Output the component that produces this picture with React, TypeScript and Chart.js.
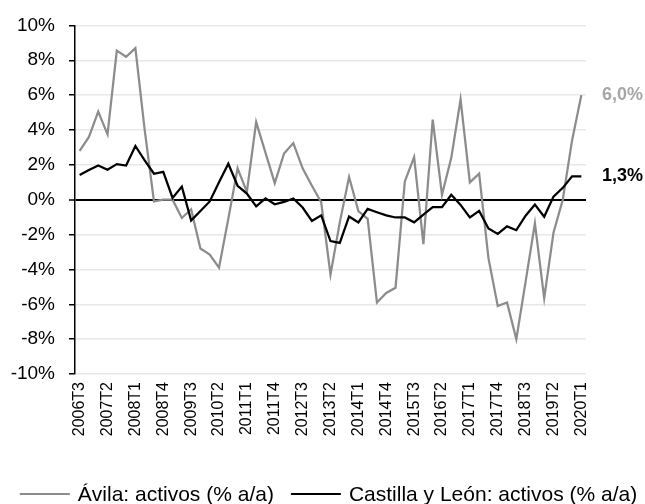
import React, { useEffect, useRef } from "react";
import { Chart, registerables } from "chart.js";

Chart.register(...registerables);

const categories = [
  "2006T3", "2006T4",
  "2007T1", "2007T2", "2007T3", "2007T4",
  "2008T1", "2008T2", "2008T3", "2008T4",
  "2009T1", "2009T2", "2009T3", "2009T4",
  "2010T1", "2010T2", "2010T3", "2010T4",
  "2011T1", "2011T2", "2011T3", "2011T4",
  "2012T1", "2012T2", "2012T3", "2012T4",
  "2013T1", "2013T2", "2013T3", "2013T4",
  "2014T1", "2014T2", "2014T3", "2014T4",
  "2015T1", "2015T2", "2015T3", "2015T4",
  "2016T1", "2016T2", "2016T3", "2016T4",
  "2017T1", "2017T2", "2017T3", "2017T4",
  "2018T1", "2018T2", "2018T3", "2018T4",
  "2019T1", "2019T2", "2019T3", "2019T4",
  "2020T1",
];

const tickLabels = [
  "2006T3", "2007T2", "2008T1", "2008T4", "2009T3", "2010T2", "2011T1",
  "2011T4", "2012T3", "2013T2", "2014T1", "2014T4", "2015T3", "2016T2",
  "2017T1", "2017T4", "2018T3", "2019T2", "2020T1",
];

const avila = [
  2.8, 3.6, 5.05, 3.75, 8.55, 8.2, 8.7, 4.0, -0.1, 0.0,
  0.0, -1.05, -0.55, -2.8, -3.15, -3.9, -1.1, 1.8, 0.45, 4.45,
  2.7, 0.95, 2.65, 3.25, 1.8, 0.8, -0.15, -4.3, -1.3, 1.3,
  -0.65, -1.1, -5.9, -5.35, -5.05, 1.05, 2.45, -2.55, 4.6, 0.28,
  2.4, 5.75, 1.0, 1.5, -3.35, -6.1, -5.9, -8.0, -4.7, -1.35,
  -5.65, -1.9, 0.0, 3.4, 6.0,
];

const castilla = [
  1.42, 1.7, 1.96, 1.72, 2.04, 1.96, 3.08, 2.25, 1.49, 1.6,
  0.1, 0.75, -1.2, -0.65, -0.1, 1.0, 2.06, 0.8, 0.35, -0.38,
  0.08, -0.26, -0.13, 0.07, -0.45, -1.22, -0.9, -2.37, -2.48, -0.96,
  -1.3, -0.53, -0.72, -0.9, -1.02, -1.02, -1.3, -0.85, -0.43, -0.43,
  0.28, -0.3, -1.02, -0.64, -1.65, -1.96, -1.53, -1.75, -0.92, -0.28,
  -0.98, 0.18, 0.68, 1.34, 1.34,
];

const seriesNames = ["Ávila: activos (% a/a)", "Castilla y León: activos (% a/a)"];
const seriesColors = ["#8c8c8c", "#000000"];
const endLabelColors = ["#a6a6a6", "#000000"];

const FONT = "'Liberation Sans', Arial, Helvetica, sans-serif";

const endLabelsPlugin = {
  id: "endLabels",
  afterDatasetsDraw(chart: any) {
    const ctx = chart.ctx;
    const area = chart.chartArea;
    ctx.save();
    ctx.font = `bold 18px ${FONT}`;
    ctx.textBaseline = "middle";
    ctx.textAlign = "left";
    chart.data.datasets.forEach((ds: any, i: number) => {
      const meta = chart.getDatasetMeta(i);
      const last = meta.data[meta.data.length - 1];
      const v = ds.data[ds.data.length - 1];
      const txt = v.toFixed(1).replace(".", ",") + "%";
      ctx.fillStyle = endLabelColors[i];
      ctx.fillText(txt, area.right + 16, last.y);
    });
    ctx.restore();
  },
};

const legendPlugin = {
  id: "customLegend",
  afterDraw(chart: any) {
    const ctx = chart.ctx;
    ctx.save();
    ctx.font = `21px ${FONT}`;
    ctx.textBaseline = "middle";
    ctx.textAlign = "left";
    const lineW = 50;
    const textGap = 8;
    const itemGap = 17;
    const widths = seriesNames.map((n) => ctx.measureText(n).width);
    const total =
      widths.reduce((a: number, w: number) => a + lineW + textGap + w, 0) +
      itemGap * (seriesNames.length - 1);
    let x = (chart.width - total) / 2 + 6;
    const y = chart.height - 10;
    seriesNames.forEach((n, i) => {
      ctx.strokeStyle = seriesColors[i];
      ctx.lineWidth = 2;
      ctx.beginPath();
      ctx.moveTo(x, y);
      ctx.lineTo(x + lineW, y);
      ctx.stroke();
      ctx.fillStyle = "#000";
      ctx.fillText(n, x + lineW + textGap, y + 1);
      x += lineW + textGap + widths[i] + itemGap;
    });
    ctx.restore();
  },
};

export default function App() {
  const ref = useRef<HTMLCanvasElement | null>(null);

  useEffect(() => {
    if (!ref.current) return;
    const chart = new Chart(ref.current, {
      type: "line",
      data: {
        labels: categories,
        datasets: [
          {
            label: seriesNames[0],
            data: avila,
            borderColor: seriesColors[0],
            backgroundColor: seriesColors[0],
            borderWidth: 2.25,
            pointRadius: 0,
            tension: 0,
            order: 2,
          },
          {
            label: seriesNames[1],
            data: castilla,
            borderColor: seriesColors[1],
            backgroundColor: seriesColors[1],
            borderWidth: 2.25,
            pointRadius: 0,
            tension: 0,
            order: 1,
          },
        ],
      },
      options: {
        responsive: false,
        animation: false,
        layout: { padding: { left: 0, right: 59, top: 20, bottom: 0 } },
        plugins: {
          legend: { display: false },
          tooltip: { enabled: false },
        },
        scales: {
          x: {
            type: "category",
            offset: true,
            grid: { display: false, drawTicks: false },
            border: { display: false },
            ticks: {
              autoSkip: false,
              maxRotation: 90,
              minRotation: 90,
              padding: 8,
              color: "#000",
              font: { size: 16, family: FONT },
              callback: (_v: any, idx: number) =>
                tickLabels.includes(categories[idx]) ? categories[idx] : "",
            },
            afterFit: (s: any) => {
              s.height = 130;
            },
          },
          y: {
            min: -10,
            max: 10,
            ticks: {
              stepSize: 2,
              padding: 14,
              color: "#000",
              font: { size: 19, family: FONT },
              callback: (v: any) => `${v}%`,
            },
            grid: {
              color: (c: any) => (c.tick && c.tick.value === 0 ? "#000" : "#e8e8e8"),
              lineWidth: (c: any) => (c.tick && c.tick.value === 0 ? 2 : 1.5),
              tickColor: "#000",
              tickLength: 6,
              tickWidth: 1.5,
            },
            border: { display: true, color: "#000", width: 1.5 },
            afterFit: (s: any) => {
              s.width = 75;
            },
          },
        },
      },
      plugins: [endLabelsPlugin, legendPlugin],
    });
    return () => chart.destroy();
  }, []);

  return (
    <div style={{ position: "absolute", left: 0, top: 0, width: 645, height: 504, background: "#fff" }}>
      <canvas ref={ref} width={645} height={504} />
    </div>
  );
}
